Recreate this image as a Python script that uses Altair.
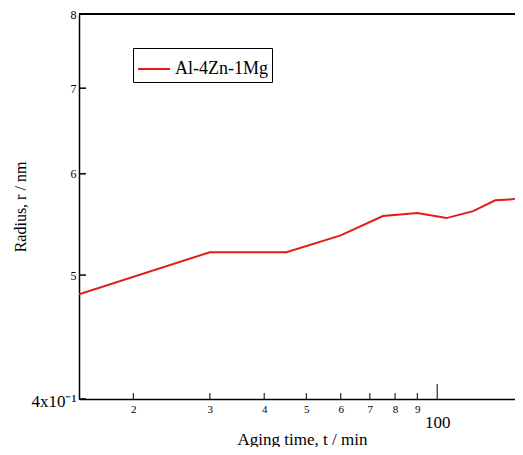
import altair as alt
import pandas as pd

# Data
time_min = [15, 30, 45, 60, 75, 90, 105, 121, 136, 149, 160]
radius = [4.83, 5.21, 5.21, 5.37, 5.56, 5.59, 5.54, 5.61, 5.72, 5.73, 5.78]
series = ["Al-4Zn-1Mg"] * len(time_min)

x_ticks_minor = [20, 30, 40, 50, 60, 70, 80, 90]
x_ticks_major = [100]
x_tick_values = [20, 30, 40, 50, 60, 70, 80, 90, 100]
y_tick_values = [4, 5, 6, 7, 8]

W, H = 436, 385
FONT = "Liberation Serif"
RED = "#e31a1c"

df = pd.DataFrame({"t": time_min, "r": radius, "series": series})
df_xminor = pd.DataFrame({"t": x_ticks_minor})
df_xmajor = pd.DataFrame({"t": x_ticks_major})
df_y = pd.DataFrame({"r": y_tick_values})

xscale = alt.Scale(type="log", domain=[15, 151], nice=False)
yscale = alt.Scale(type="log", domain=[4, 8], nice=False)

line = alt.Chart(df).mark_line(color=RED, strokeWidth=2, clip=True).encode(
    x=alt.X("t:Q", scale=xscale, axis=alt.Axis(
        values=x_tick_values,
        labelExpr="datum.value == 100 ? '100' : format(datum.value / 10, 'd')",
        labelFontSize={"condition": {"test": "datum.value == 100", "value": 17}, "value": 11},
        labelPadding={"condition": {"test": "datum.value == 100", "value": 15}, "value": 4},
        labelFlush=False, labelOverlap=False, ticks=False, grid=False,
        domainColor="black", domainWidth=1.5, labelColor="black", labelFont=FONT,
        title="Aging time, t / min", titleFont=FONT, titleFontSize=17,
        titleFontWeight="normal", titleColor="black",
        titleX=223, titleY=40, titleBaseline="middle",
    )),
    y=alt.Y("r:Q", scale=yscale, axis=alt.Axis(
        values=y_tick_values,
        labelExpr="datum.value == 4 ? '4x10⁻¹' : format(datum.value, 'd')",
        labelFontSize={"condition": {"test": "datum.value == 4", "value": 17}, "value": 12},
        labelOffset={"condition": {"test": "datum.value == 4", "value": 2}, "value": 0},
        labelPadding=3, labelFlush=False, labelOverlap=False, ticks=False, grid=False,
        domainColor="black", domainWidth=1.5, labelColor="black", labelFont=FONT,
        title="Radius, r / nm", titleFont=FONT, titleFontSize=16,
        titleFontWeight="normal", titleColor="black",
        titleX=-59, titleY=H / 2, titleBaseline="middle",
    )),
    color=alt.Color("series:N", scale=alt.Scale(range=[RED]), legend=alt.Legend(
        orient="none", legendX=54, legendY=34, title=None,
        strokeColor="black", padding=4, symbolType="stroke",
        symbolSize=1024, symbolStrokeWidth=2, labelFont=FONT, labelFontSize=18,
        labelColor="black", labelOffset=4,
    )),
)

xminor = alt.Chart(df_xminor).mark_rule(color="black", strokeWidth=1).encode(
    x=alt.X("t:Q", scale=xscale), y=alt.value(H), y2=alt.value(H - 6)
)
xmajor = alt.Chart(df_xmajor).mark_rule(color="black", strokeWidth=1).encode(
    x=alt.X("t:Q", scale=xscale), y=alt.value(H), y2=alt.value(H - 15)
)
yt = alt.Chart(df_y).mark_rule(color="black", strokeWidth=1.5).encode(
    y=alt.Y("r:Q", scale=yscale), x=alt.value(0), x2=alt.value(7)
)
top = alt.Chart(df_y).mark_rule(color="black", strokeWidth=1.5).encode(
    x=alt.value(0), x2=alt.value(W), y=alt.value(0)
)

chart = alt.layer(line, xminor, xmajor, yt, top).properties(
    width=W, height=H,
    autosize=alt.AutoSizeParams(type="none"),
    padding={"left": 71, "top": 6, "right": 0, "bottom": 48},
).configure_view(stroke=None).configure(background="white")

chart.save("out.html", embed_options={"renderer": "svg", "actions": False})
